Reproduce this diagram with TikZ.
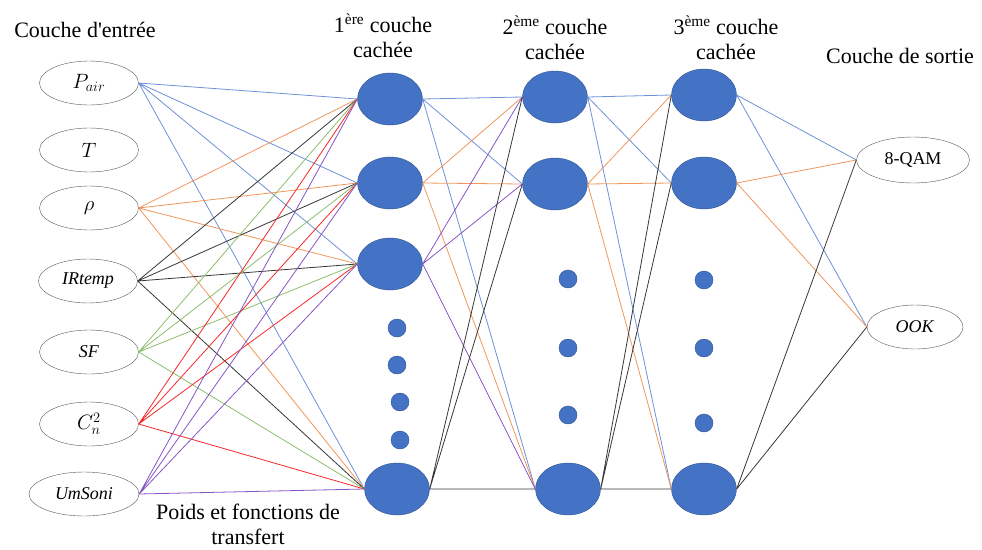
\documentclass[tikz,border=0pt]{standalone}
\usepackage{fontspec}
\setmainfont{Liberation Serif}
\usepackage{tikz}
\usetikzlibrary{shapes.geometric}

\definecolor{nfill}{RGB}{68,114,196}
\definecolor{nline}{RGB}{47,82,143}
\definecolor{wblue}{RGB}{110,145,215}
\definecolor{worange}{RGB}{240,150,90}
\definecolor{wgreen}{RGB}{140,190,110}
\definecolor{wred}{RGB}{245,40,40}
\definecolor{wpurple}{RGB}{135,85,195}
\definecolor{wblack}{RGB}{55,55,55}

\begin{document}
\begin{tikzpicture}[x=1pt,y=-1pt,
  inp/.style={draw=black!65,ellipse,minimum width=99pt,minimum height=44pt,inner sep=0pt,font=\fontsize{18}{20}\selectfont},
  minp/.style={inp,font=\fontsize{21}{24}\selectfont},
  neu/.style={draw=nline,fill=nfill,ellipse,minimum width=65pt,minimum height=52pt,inner sep=0pt},
  small/.style={draw=nline,fill=nfill,circle,minimum size=18pt,inner sep=0pt},
  ttl/.style={align=center,font=\fontsize{22}{25}\selectfont},
  wb/.style={draw=wblue,line width=0.8pt},
  wo/.style={draw=worange,line width=0.8pt},
  wg/.style={draw=wgreen,line width=0.8pt},
  wr/.style={draw=wred,line width=0.8pt},
  wp/.style={draw=wpurple,line width=0.8pt},
  wk/.style={draw=wblack,line width=0.8pt}]
  \useasboundingbox (0,0) rectangle (982,549);
  % titles
  \node[ttl] (tin) at (85,30) {Couche d\textquotesingle entrée};
  \node[ttl] (th1) at (383,36) {1\textsuperscript{ère} couche\\cachée};
  \node[ttl] (th2) at (555,38) {2\textsuperscript{ème} couche\\cachée};
  \node[ttl] (th3) at (726,38) {3\textsuperscript{ème} couche\\cachée};
  \node[ttl] (tout) at (900,56) {Couche de sortie};
  \node[ttl] (tw) at (248,524) {Poids et fonctions de\\transfert};
  % input layer
  \node[minp] (pair) at (89,83) {$P_{air}$};
  \node[minp] (temp) at (89,150) {$T$};
  \node[minp] (rho) at (89,208) {$\rho$};
  \node[inp] (irt) at (88,281) {\textit{IRtemp}};
  \node[inp] (sf) at (89,352) {\textit{SF}};
  \node[minp] (cn) at (89,424) {$C_n^2$};
  \node[inp,minimum width=110pt] (soni) at (84,494) {\textit{UmSoni}};
  % 1st hidden layer
  \node[neu] (h11) at (390,99) {};
  \node[neu] (h12) at (390,183) {};
  \node[neu] (h13) at (390,264) {};
  \node[small] (d11) at (397,328) {};
  \node[small] (d12) at (397,365) {};
  \node[small] (d13) at (400,402) {};
  \node[small] (d14) at (400,440) {};
  \node[neu] (h1n) at (397,489) {};
  % 2nd hidden layer
  \node[neu] (h21) at (555,97) {};
  \node[neu] (h22) at (555,184) {};
  \node[small] (d21) at (568,279) {};
  \node[small] (d22) at (568,348) {};
  \node[small] (d23) at (568,415) {};
  \node[neu] (h2n) at (568,489) {};
  % 3rd hidden layer
  \node[neu] (h31) at (704,95) {};
  \node[neu] (h32) at (704,183) {};
  \node[small] (d31) at (704,280) {};
  \node[small] (d32) at (704,348) {};
  \node[small] (d33) at (704,423) {};
  \node[neu] (h3n) at (704,489) {};
  % output layer
  \node[inp,minimum width=113pt,minimum height=46pt] (qam) at (913,160) {8-QAM};
  \node[inp,minimum width=96pt] (ook) at (915,327) {\textit{OOK}};
  % weights: input -> 1st hidden
  \draw[wb] (pair.east) -- (h11.west) (pair.east) -- (h12.west) (pair.east) -- (h13.west) (pair.east) -- (h1n.west);
  \draw[wo] (rho.east) -- (h11.west) (rho.east) -- (h12.west) (rho.east) -- (h13.west) (rho.east) -- (h1n.west);
  \draw[wk] (irt.east) -- (h11.west) (irt.east) -- (h12.west) (irt.east) -- (h13.west) (irt.east) -- (h1n.west);
  \draw[wg] (sf.east) -- (h11.west) (sf.east) -- (h12.west) (sf.east) -- (h13.west) (sf.east) -- (h1n.west);
  \draw[wr] (cn.east) -- (h11.west) (cn.east) -- (h12.west) (cn.east) -- (h13.west) (cn.east) -- (h1n.west);
  \draw[wp] (soni.east) -- (h11.west) (soni.east) -- (h12.west) (soni.east) -- (h13.west) (soni.east) -- (h1n.west);
  % 1st -> 2nd hidden
  \draw[wb] (h11.east) -- (h21.west) (h11.east) -- (h22.west) (h11.east) -- (h2n.west);
  \draw[wo] (h12.east) -- (h21.west) (h12.east) -- (h22.west) (h12.east) -- (h2n.west);
  \draw[wp] (h13.east) -- (h21.west) (h13.east) -- (h22.west) (h13.east) -- (h2n.west);
  \draw[wk] (h1n.east) -- (h21.west) (h1n.east) -- (h22.west) (h1n.east) -- (h2n.west);
  % 2nd -> 3rd hidden
  \draw[wb] (h21.east) -- (h31.west) (h21.east) -- (h32.west) (h21.east) -- (h3n.west);
  \draw[wo] (h22.east) -- (h31.west) (h22.east) -- (h32.west) (h22.east) -- (h3n.west);
  \draw[wk] (h2n.east) -- (h31.west) (h2n.east) -- (h32.west) (h2n.east) -- (h3n.west);
  % 3rd hidden -> output
  \draw[wb] (h31.east) -- (qam.west) (h31.east) -- (ook.west);
  \draw[wo] (h32.east) -- (qam.west) (h32.east) -- (ook.west);
  \draw[wk] (h3n.east) -- (qam.west) (h3n.east) -- (ook.west);
\end{tikzpicture}
\end{document}
